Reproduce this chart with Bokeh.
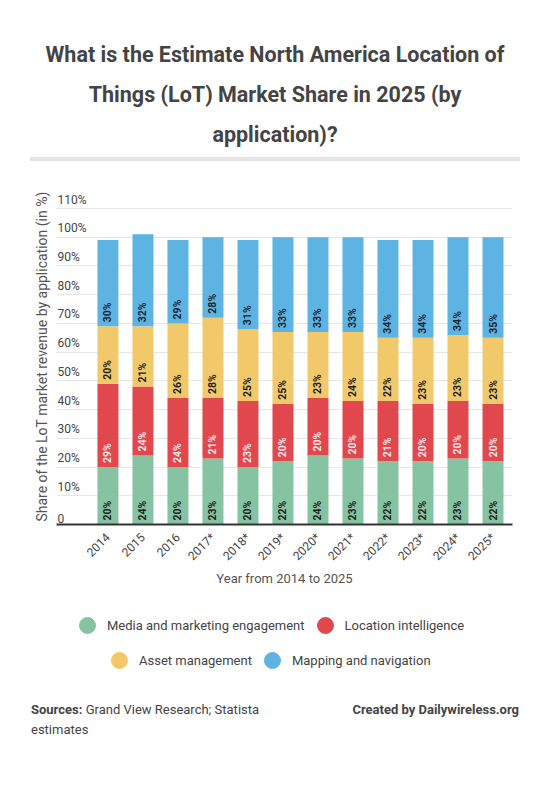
import math
from bokeh.plotting import figure
from bokeh.models import (ColumnDataSource, Range1d, FixedTicker, Legend, LegendItem, Div)
from bokeh.layouts import column
from bokeh.core.properties import value
from bokeh.embed import file_html
from bokeh.resources import INLINE

# ---------------- data ----------------
years = ["2014", "2015", "2016", "2017*", "2018*", "2019*", "2020*", "2021*",
         "2022*", "2023*", "2024*", "2025*"]
media = [20, 24, 20, 23, 20, 22, 24, 23, 22, 22, 23, 22]
location = [29, 24, 24, 21, 23, 20, 20, 20, 21, 20, 20, 20]
asset = [20, 21, 26, 28, 25, 25, 23, 24, 22, 23, 23, 23]
mapping = [30, 32, 29, 28, 31, 33, 33, 33, 34, 34, 34, 35]
series_names = ["Media and marketing engagement", "Location intelligence",
                "Asset management", "Mapping and navigation"]
y_ticks = [0, 10, 20, 30, 40, 50, 60, 70, 80, 90, 100, 110]
y_tick_labels = ["0", "10%", "20%", "30%", "40%", "50%", "60%", "70%",
                 "80%", "90%", "100%", "110%"]

# ---------------- styles ----------------
colors = ["#86c3a2", "#e0484e", "#f2c96a", "#5db4e3"]
label_colors = ["#1e1e1e", "#f7e6e6", "#1e1e1e", "#1b2633"]
FONT = "Roboto"

series = [media, location, asset, mapping]
keys = ["media", "location", "asset", "mapping"]
xs = list(range(len(years)))

data = {"x": xs}
for k, s in zip(keys, series):
    data[k] = s
source = ColumnDataSource(data)

X0, X1 = -1.47, 11.557
Y_END = 110 * 336 / 316   # head room above the 110% line for its label

p = figure(width=550, height=430, x_range=Range1d(X0, X1), y_range=Range1d(0, Y_END),
           output_backend="svg", toolbar_location=None,
           min_border_left=56, min_border_right=38, min_border_top=18, min_border_bottom=76)
p.outline_line_color = None
p.background_fill_color = "white"
p.border_fill_color = "white"

p.vbar_stack(keys, x="x", width=0.6, color=colors, line_color=None, source=source)

# segment labels
lx, ly, lt, lc = [], [], [], []
bottoms = [0] * len(years)
for s, c in zip(series, label_colors):
    for i, v in enumerate(s):
        lx.append(xs[i])
        ly.append(bottoms[i])
        lt.append(f"{v}%")
        lc.append(c)
        bottoms[i] += v
lsrc = ColumnDataSource(dict(x=lx, y=ly, text=lt, color=lc))
p.text(x="x", y="y", text="text", source=lsrc, angle=math.pi / 2,
       text_align="left", text_baseline="middle", y_offset=-4,
       text_color="color", text_font=value(FONT), text_font_style="bold",
       text_font_size="10.5px")

# y tick labels sit on top of their grid lines, inside the plot
tsrc = ColumnDataSource(dict(x=[X0] * len(y_ticks), y=y_ticks, text=y_tick_labels))
p.text(x="x", y="y", text="text", source=tsrc, text_align="left", text_baseline="bottom",
       x_offset=1, y_offset=-2, text_color="#444444", text_font=value(FONT),
       text_font_size="12px")

# grid / axes
p.xgrid.visible = False
p.ygrid.ticker = FixedTicker(ticks=y_ticks)
p.ygrid.grid_line_color = "#e6e6e6"
p.ygrid.grid_line_width = 1

xa = p.xaxis[0]
xa.ticker = FixedTicker(ticks=xs)
xa.major_label_overrides = {i: y for i, y in zip(xs, years)}
xa.major_label_orientation = math.pi / 4
xa.major_label_text_font = FONT
xa.major_label_text_font_size = "12px"
xa.major_label_text_color = "#444444"
xa.major_label_standoff = 5
xa.axis_line_color = "#333333"
xa.axis_line_width = 2
xa.major_tick_line_color = None
xa.minor_tick_line_color = None
xa.axis_label = "Year from 2014 to 2025"
xa.axis_label_text_font = FONT
xa.axis_label_text_font_size = "13px"
xa.axis_label_text_font_style = "normal"
xa.axis_label_text_color = "#555555"
xa.axis_label_standoff = 0

ya = p.yaxis[0]
ya.ticker = FixedTicker(ticks=[])
ya.major_label_standoff = 0
ya.axis_line_color = None
ya.major_tick_line_color = None
ya.minor_tick_line_color = None
ya.major_tick_out = 0
ya.axis_label = "Share of the LoT market revenue by application (in %)"
ya.axis_label_text_font = FONT
ya.axis_label_text_font_size = "14px"
ya.axis_label_text_font_style = "normal"
ya.axis_label_text_color = "#555555"
ya.axis_label_standoff = 7

# ---------------- legend figure (its frame is aligned with the chart's) ----------------
lg = figure(width=550, height=90, x_range=Range1d(0, 1), y_range=Range1d(0, 1),
            output_backend="svg", toolbar_location=None, x_axis_type=None, y_axis_type=None,
            min_border=0, min_border_left=0, min_border_right=0, min_border_top=0,
            min_border_bottom=0)
lg.outline_line_color = None
lg.xgrid.visible = False
lg.ygrid.visible = False

dummies = []
for c in colors:
    r = lg.scatter(x=[float("nan")], y=[float("nan")], marker="circle", size=16,
                   fill_color=c, line_color=c)
    dummies.append(r)


def make_legend(idx, loc):
    return Legend(items=[LegendItem(label=series_names[i], renderers=[dummies[i]]) for i in idx],
                  orientation="horizontal", location=loc,
                  border_line_color=None, background_fill_alpha=0,
                  label_text_font=FONT, label_text_font_size="13px",
                  label_text_color="#444444", glyph_width=40, glyph_height=40,
                  label_standoff=0, spacing=0, padding=0, margin=0)


lg.add_layout(make_legend([0, 1], (11, 45)))
lg.add_layout(make_legend([2, 3], (43, 10)))

title_div = Div(width=550, height=170, margin=0, text=(
    '<div style="position:relative;width:550px;height:170px;font-family:Roboto;">'
    '<div style="position:absolute;top:35px;left:0;width:550px;text-align:center;'
    'font-weight:bold;font-size:21.5px;line-height:40px;color:#444444;">'
    'What is the Estimate North America Location of<br>'
    'Things (LoT) Market Share in 2025 (by<br>application)?</div>'
    '<div style="position:absolute;top:157px;left:30px;width:490px;height:4px;'
    'background:#e4e4e4;"></div></div>'))

footer_div = Div(width=550, height=110, margin=0, text=(
    '<div style="position:relative;width:550px;height:110px;font-family:Roboto;'
    'font-size:13px;color:#444444;">'
    '<div style="position:absolute;left:31px;top:10px;width:260px;line-height:20px;">'
    '<b>Sources:</b> <span>Grand View Research; Statista</span><br><span>estimates</span></div>'
    '<div style="position:absolute;right:31px;top:10px;line-height:20px;font-weight:bold;">'
    'Created by Dailywireless.org</div></div>'))

layout = column(title_div, p, lg, footer_div)

open("out.html", "w").write(file_html(layout, INLINE))
